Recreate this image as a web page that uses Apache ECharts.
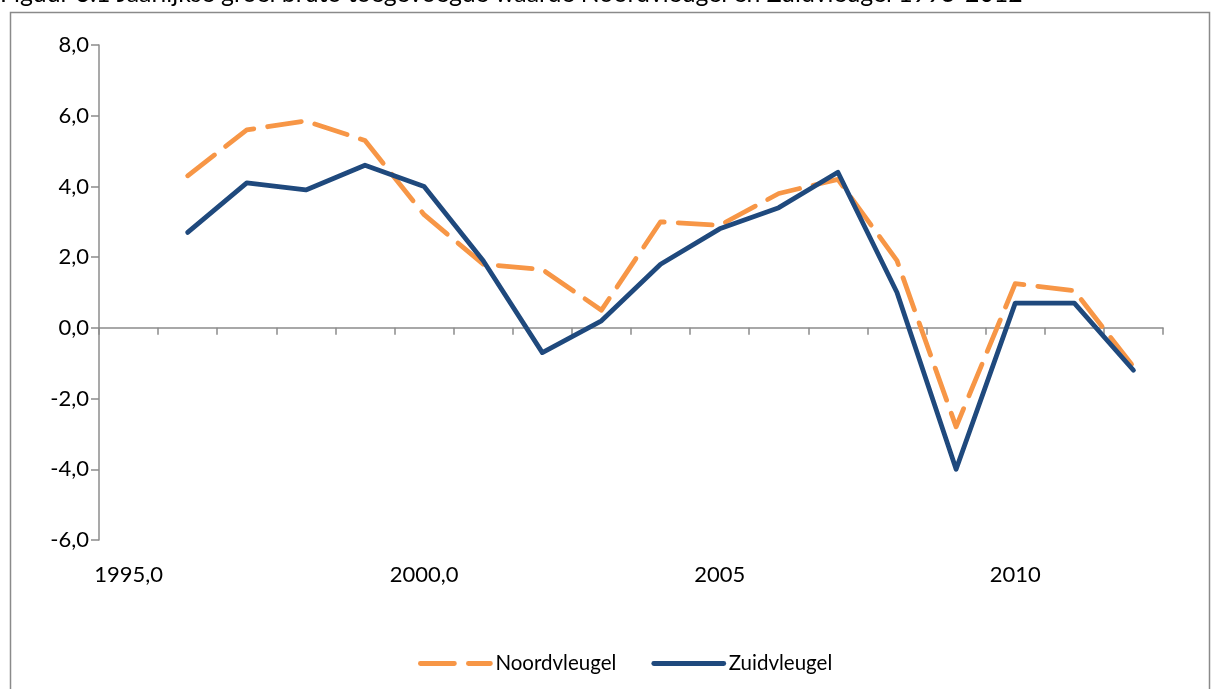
<!DOCTYPE html>
<html>
<head>
<meta charset="utf-8">
<script src="https://cdn.jsdelivr.net/npm/echarts@6/dist/echarts.min.js"></script>
<style>
  html, body { margin: 0; padding: 0; background: #ffffff; }
  #chart { width: 1212px; height: 689px; }
</style>
</head>
<body>
<div id="chart"></div>
<script>
// Years on the category axis (1995 has no observation)
const years = ['1995','1996','1997','1998','1999','2000','2001','2002','2003','2004',
               '2005','2006','2007','2008','2009','2010','2011','2012'];

// Annual growth of gross value added (%)
const noordvleugel = [null, 4.3, 5.6, 5.85, 5.3, 3.2, 1.8, 1.65, 0.5, 3.0,
                      2.9, 3.8, 4.2, 1.9, -2.8, 1.25, 1.05, -1.1];
const zuidvleugel  = [null, 2.7, 4.1, 3.9, 4.6, 4.0, 1.9, -0.7, 0.2, 1.8,
                      2.8, 3.4, 4.4, 1.0, -4.0, 0.7, 0.7, -1.2];

// Labels shown under the horizontal axis
const xTickLabels = { '1995': '1995,0', '2000': '2000,0', '2005': '2005', '2010': '2010' };
const yTicks = { min: -6, max: 8, step: 2 };

const titleText = 'Figuur 3.1 Jaarlijkse groei bruto toegevoegde waarde Noordvleugel en Zuidvleugel 1995-2012';

const FONT = 'Lato, "Open Sans", sans-serif';
const AXIS_GREY = '#8c8c8c';
const ORANGE = '#F79646';
const BLUE = '#1F497D';
const LINE_W = 4.8;

const chart = echarts.init(document.getElementById('chart'), null, { renderer: 'canvas' });

chart.setOption({
  animation: false,
  backgroundColor: '#ffffff',
  graphic: [
    {
      type: 'rect',
      shape: { x: 10.5, y: 12.5, width: 1199, height: 700 },
      style: { fill: 'none', stroke: '#8a8a8a', lineWidth: 1.5 },
      silent: true
    },
    {
      type: 'text',
      left: 0,
      top: -18,
      style: { text: titleText, font: '24.8px ' + FONT, fill: '#000000' },
      silent: true
    }
  ],
  grid: { left: 99, right: 49, top: 45, bottom: 149, containLabel: false },
  legend: {
    show: true,
    orient: 'horizontal',
    top: 648,
    left: 413,
    itemWidth: 70,
    itemHeight: 14,
    itemGap: 35,
    itemStyle: { opacity: 0 },
    lineStyle: { width: LINE_W, cap: 'round' },
    textStyle: { fontFamily: FONT, fontSize: 20.5, color: '#000000' },
    data: ['Noordvleugel', 'Zuidvleugel']
  },
  xAxis: [
    {
      // axis line through zero with a tick at every year boundary
      type: 'category',
      data: years,
      boundaryGap: true,
      axisLine: { onZero: true, lineStyle: { color: AXIS_GREY, width: 1.5 } },
      axisTick: { show: true, interval: 0, length: 7, inside: false, lineStyle: { color: AXIS_GREY, width: 1.5 } },
      axisLabel: { show: false },
      splitLine: { show: false }
    },
    {
      // labels along the bottom of the plot area
      type: 'category',
      data: years,
      position: 'bottom',
      boundaryGap: true,
      axisLine: { show: false, onZero: false },
      axisTick: { show: false },
      axisLabel: {
        show: true,
        interval: 0,
        margin: 24,
        fontFamily: FONT,
        fontSize: 22,
        color: '#000000',
        formatter: (v) => xTickLabels[v] || ''
      },
      splitLine: { show: false }
    }
  ],
  yAxis: {
    type: 'value',
    min: yTicks.min,
    max: yTicks.max,
    interval: yTicks.step,
    axisLine: { show: true, lineStyle: { color: AXIS_GREY, width: 1.5 } },
    axisTick: { show: true, length: 8, lineStyle: { color: AXIS_GREY, width: 1.5 } },
    axisLabel: {
      margin: 10,
      fontFamily: FONT,
      fontSize: 22,
      color: '#000000',
      formatter: (v) => v.toFixed(1).replace('.', ',')
    },
    splitLine: { show: false }
  },
  series: [
    {
      name: 'Noordvleugel',
      type: 'line',
      xAxisIndex: 0,
      data: noordvleugel,
      symbol: 'none',
      color: ORANGE,
      lineStyle: { color: ORANGE, width: LINE_W, type: [34, 14], cap: 'round', join: 'round' },
      z: 2
    },
    {
      name: 'Zuidvleugel',
      type: 'line',
      xAxisIndex: 0,
      data: zuidvleugel,
      symbol: 'none',
      color: BLUE,
      lineStyle: { color: BLUE, width: LINE_W, type: 'solid', cap: 'round', join: 'round' },
      z: 3
    }
  ]
});
</script>
</body>
</html>
